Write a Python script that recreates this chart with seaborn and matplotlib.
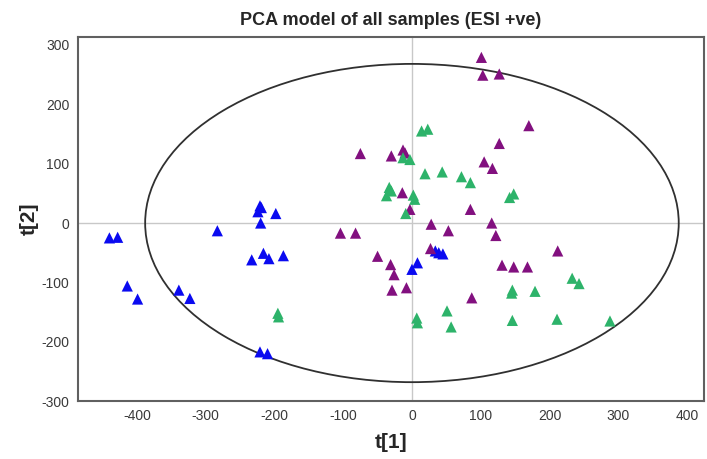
import matplotlib
matplotlib.use("Agg")
import matplotlib.pyplot as plt
import seaborn as sns
import pandas as pd
from matplotlib.patches import Ellipse
from matplotlib.ticker import MultipleLocator

# scores
blue_t1 = [-440, -428, -414, -399, -339, -323, -283, -221, -224, -219, -198, -220,
           -233, -216, -208, -187, -221, -210, 0, 8, 34, 39, 45]
blue_t2 = [-25, -24, -106, -128, -113, -127, -13, 29, 19, 26, 16, 0,
           -62, -51, -60, -55, -217, -220, -78, -67, -47, -50, -52]

purple_t1 = [101, 103, 127, 170, 127, 105, 117, -75, -30, -13, -10, -14, -3, 85,
             116, 122, -104, -82, -50, -31, -26, -29, -8, 27, 28, 53, 131, 148,
             168, 212, 87]
purple_t2 = [279, 249, 251, 164, 134, 103, 92, 117, 113, 123, 118, 51, 23, 23,
             0, -21, -17, -17, -56, -70, -87, -113, -109, -43, -2, -13, -71, -74,
             -74, -47, -126]

green_t1 = [14, 23, -13, -3, 19, 44, 72, 85, -33, -30, -37, 2, 4, -9, 148, 142,
            -195, -194, 51, 7, 8, 57, 146, 145, 179, 233, 243, 146, 211, 288]
green_t2 = [155, 158, 110, 107, 83, 86, 78, 68, 60, 54, 46, 47, 40, 16, 49, 43,
            -152, -158, -148, -160, -168, -175, -113, -118, -115, -93, -102, -164,
            -162, -165]

groups = ["blue", "purple", "green"]
colors = {"blue": "#0A0AF0", "purple": "#82107F", "green": "#2DB36A"}

# ellipse de Hotelling T2 (demi-axes)
ell_a = 388
ell_b = 268

df = pd.concat([
    pd.DataFrame({"t1": blue_t1, "t2": blue_t2, "grp": "blue"}),
    pd.DataFrame({"t1": purple_t1, "t2": purple_t2, "grp": "purple"}),
    pd.DataFrame({"t1": green_t1, "t2": green_t2, "grp": "green"}),
])

sns.set_style("white")
plt.rcParams["font.family"] = ["Liberation Sans", "DejaVu Sans"]
plt.rcParams["axes.unicode_minus"] = False

fig = plt.figure(figsize=(7.07, 4.59), dpi=100)
ax = fig.add_axes([0.110, 0.126, 0.886, 0.793])

ax.axhline(0, color="#c8c8c8", lw=1, zorder=0)
ax.axvline(0, color="#c8c8c8", lw=1, zorder=0)
ax.add_patch(Ellipse((0, 0), 2 * ell_a, 2 * ell_b, fill=False,
                     edgecolor="#303030", lw=1.3, zorder=1))

sns.scatterplot(data=df, x="t1", y="t2", hue="grp", hue_order=groups,
                palette=colors, marker="^", s=65, edgecolor="none",
                legend=False, ax=ax, zorder=3)

ax.set_xlim(-486, 425)
ax.set_ylim(-300, 313)
ax.xaxis.set_major_locator(MultipleLocator(100))
ax.yaxis.set_major_locator(MultipleLocator(100))
ax.xaxis.set_minor_locator(MultipleLocator(50))
ax.yaxis.set_minor_locator(MultipleLocator(50))
ax.tick_params(axis="both", which="major", labelsize=10, labelcolor="#3a3a3a",
               direction="in", length=3, color="#777777", pad=6)
ax.tick_params(axis="both", which="minor", direction="in", length=2, color="#999999")
for sp in ax.spines.values():
    sp.set_color("#606060")
    sp.set_linewidth(1.5)

ax.set_xlabel("t[1]", fontsize=15, fontweight="bold", labelpad=7)
ax.set_ylabel("t[2]", fontsize=15, fontweight="bold", labelpad=2)
ax.set_title("PCA model of all samples (ESI +ve)", fontsize=13,
             fontweight="bold", pad=9)

fig.savefig("out.png", dpi=100)
